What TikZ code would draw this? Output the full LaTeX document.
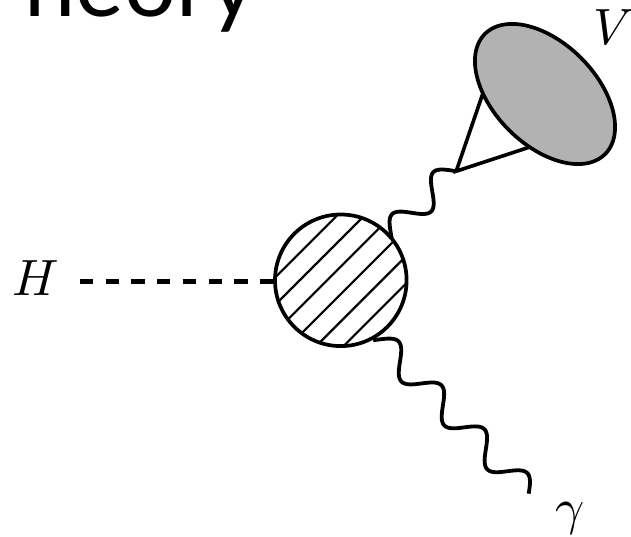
\documentclass[tikz,border=0pt]{standalone}
\usepackage{fontspec}
\usepackage{graphicx}
\newfontfamily\titlefont{Lato}
\usetikzlibrary{calc}
\definecolor{blobgrey}{gray}{0.7}
\tikzset{
  photon/.style={line width=3.8pt},
  legline/.style={line width=3.6pt},
  higgs/.style={line width=5pt, dash pattern=on 13.3pt off 12.4pt},
  hatchblob/.style={circle, draw, line width=3.7pt, fill=white, minimum size=131.6pt, inner sep=0pt,
    path picture={
      \foreach \d in {-68.5,-41.1,-13.7,13.7,41.1,68.5}{
        \draw[line width=2.2pt] ($(path picture bounding box.center)+(\d/2-90,\d/2+90)$) -- ++(180,-180);
      }
    }},
  lab/.style={inner sep=0pt},
}
\begin{document}
\begin{tikzpicture}[x=1pt,y=-1pt]
\useasboundingbox (0,0) rectangle (631,537);
\clip (0,0) rectangle (631,537);
% partial title
\node[anchor=base west, inner sep=0pt, font=\titlefont\fontsize{92}{92}\selectfont] (title) at (24,17) {heory};
% coordinates
\coordinate (apex) at (456.2,171.2);
\coordinate (t1) at (483,93);
\coordinate (t2) at (530,147);
\coordinate (hl) at (80,281);
% photon to gamma
\draw[photon] plot[domain=-34:184.5, samples=180, smooth, variable=\s]
  ({400+0.699*\s-9.295*sin(5.863*\s)}, {361.5+0.715*\s+9.087*sin(5.863*\s)});
% photon to V
\draw[photon] plot[domain=-52:46.1, samples=120, smooth, variable=\s]
  ({422+0.701*\s-9.269*sin(6.1*(\s+44.3))}, {202.25-0.713*\s-9.113*sin(6.1*(\s+44.3))});
% triangle legs
\draw[legline, line join=miter] (t1) -- (apex) -- (t2);
% meson blob
\draw[line width=3.7pt, fill=blobgrey] plot[domain=0:360, samples=120, smooth cycle, variable=\a]
  ({545+60.1*cos(\a)-36.06*sin(\a)}, {94+60.1*cos(\a)+36.06*sin(\a)});
% hatched blob
\node[hatchblob] (blob) at (340.8,280.3) {};
% Higgs line
\draw[higgs] (hl) -- (hl -| blob.west);
% labels
\node[lab, anchor=base west] (Hlab) at (12,295) {\scalebox{5.1}{$H$}};
\node[lab, anchor=base west] (Vlab) at (593,45) {\scalebox{5.1}{$V$}};
\node[lab, anchor=base west] (glab) at (555,524) {\scalebox{5.1}{$\gamma$}};
\end{tikzpicture}
\end{document}
